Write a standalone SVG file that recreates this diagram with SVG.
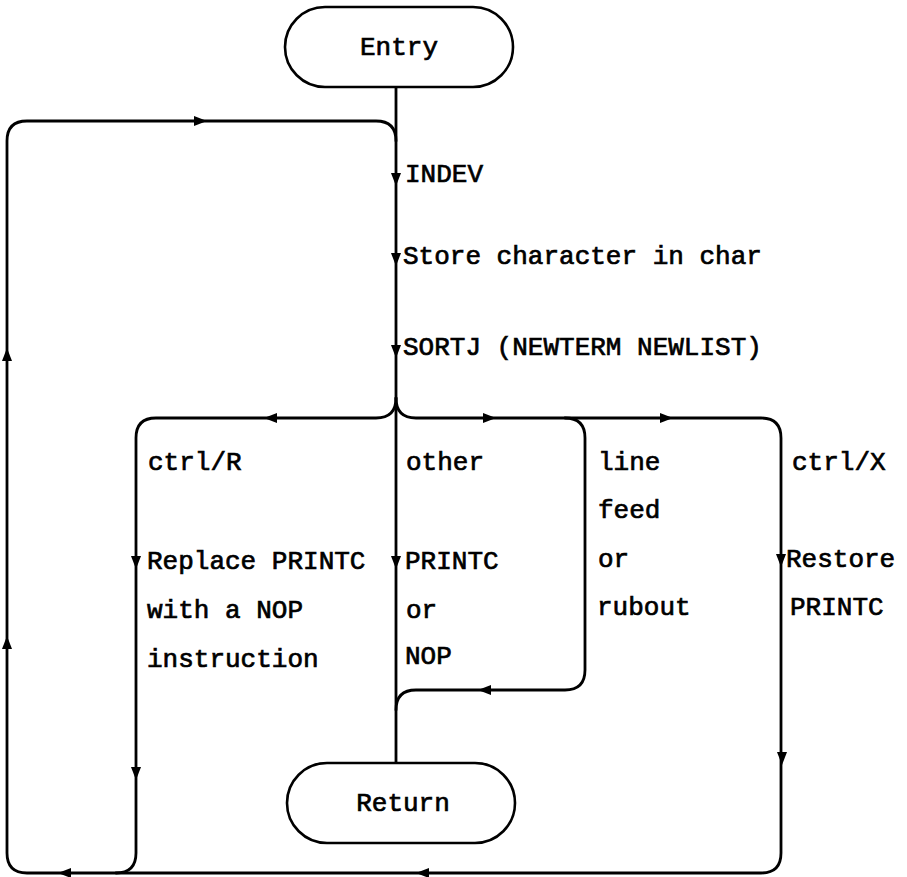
<svg xmlns="http://www.w3.org/2000/svg" xmlns:xlink="http://www.w3.org/1999/xlink" width="907" height="877" viewBox="0 0 907 877">
<style>
.term{fill:#fff;stroke:#000;stroke-width:2.6}
.ln{fill:none;stroke:#000;stroke-width:2.8;stroke-linejoin:round;stroke-linecap:round}
.t{font-family:"Liberation Mono","DejaVu Sans Mono",monospace;font-size:26px;fill:#000;stroke:#000;stroke-width:0.7}
.ah{fill:#000}
</style>
<defs>
<path id="ah" d="M0,0 L-13,-5 L-13,5 Z"/>
</defs>
<rect width="907" height="877" fill="#fff"/>
<g id="connectors">
<path class="ln" d="M396,87 V763"/>
<path class="ln" d="M396,398 Q396,418 376,418 H156 Q136,418 136,438 V853 Q136,873 116,873"/>
<path class="ln" d="M396,398 Q396,418 416,418 H761 Q781,418 781,438 V853 Q781,873 761,873 H27 Q7,873 7,853 V141 Q7,121 27,121 H376 Q396,121 396,141"/>
<path class="ln" d="M565,418 Q585,418 585,438 V670 Q585,690 565,690 H416 Q396,690 396,710"/>
<g class="ah">
<use xlink:href="#ah" transform="translate(207,121)"/>
<use xlink:href="#ah" transform="translate(396,186) rotate(90)"/>
<use xlink:href="#ah" transform="translate(396,266) rotate(90)"/>
<use xlink:href="#ah" transform="translate(396,358) rotate(90)"/>
<use xlink:href="#ah" transform="translate(264,418) rotate(180)"/>
<use xlink:href="#ah" transform="translate(496,418)"/>
<use xlink:href="#ah" transform="translate(673,418)"/>
<use xlink:href="#ah" transform="translate(136,569) rotate(90)"/>
<use xlink:href="#ah" transform="translate(396,569) rotate(90)"/>
<use xlink:href="#ah" transform="translate(781,567) rotate(90)"/>
<use xlink:href="#ah" transform="translate(478,690) rotate(180)"/>
<use xlink:href="#ah" transform="translate(136,780) rotate(90)"/>
<use xlink:href="#ah" transform="translate(782,765) rotate(90)"/>
<use xlink:href="#ah" transform="translate(416,873) rotate(180)"/>
<use xlink:href="#ah" transform="translate(58,873) rotate(180)"/>
<use xlink:href="#ah" transform="translate(7,348) rotate(-90)"/>
<use xlink:href="#ah" transform="translate(7,636) rotate(-90)"/>
</g>
</g>
<g id="entry">
<rect class="term" x="285" y="7" width="228" height="80" rx="40" ry="40"/>
<text class="t" x="399" y="55" text-anchor="middle">Entry</text>
</g>
<g id="indev"><text class="t" x="405" y="182">INDEV</text></g>
<g id="store"><text class="t" x="403" y="264">Store character in char</text></g>
<g id="sortj"><text class="t" x="403" y="355">SORTJ (NEWTERM NEWLIST)</text></g>
<g id="ctrlR">
<text class="t" x="148" y="470">ctrl/R</text>
<text class="t" x="147" y="569">Replace PRINTC</text>
<text class="t" x="147" y="618">with a NOP</text>
<text class="t" x="147" y="667">instruction</text>
</g>
<g id="other">
<text class="t" x="406" y="470">other</text>
<text class="t" x="405" y="569">PRINTC</text>
<text class="t" x="406" y="618">or</text>
<text class="t" x="405" y="664">NOP</text>
</g>
<g id="linefeed">
<text class="t" x="598" y="470">line</text>
<text class="t" x="598" y="518">feed</text>
<text class="t" x="598" y="567">or</text>
<text class="t" x="597" y="615">rubout</text>
</g>
<g id="ctrlX">
<text class="t" x="792" y="470">ctrl/X</text>
<text class="t" x="786" y="567">Restore</text>
<text class="t" x="790" y="615">PRINTC</text>
</g>
<g id="return">
<rect class="term" x="287" y="763" width="228" height="80" rx="40" ry="40"/>
<text class="t" x="403" y="811" text-anchor="middle">Return</text>
</g>
</svg>
